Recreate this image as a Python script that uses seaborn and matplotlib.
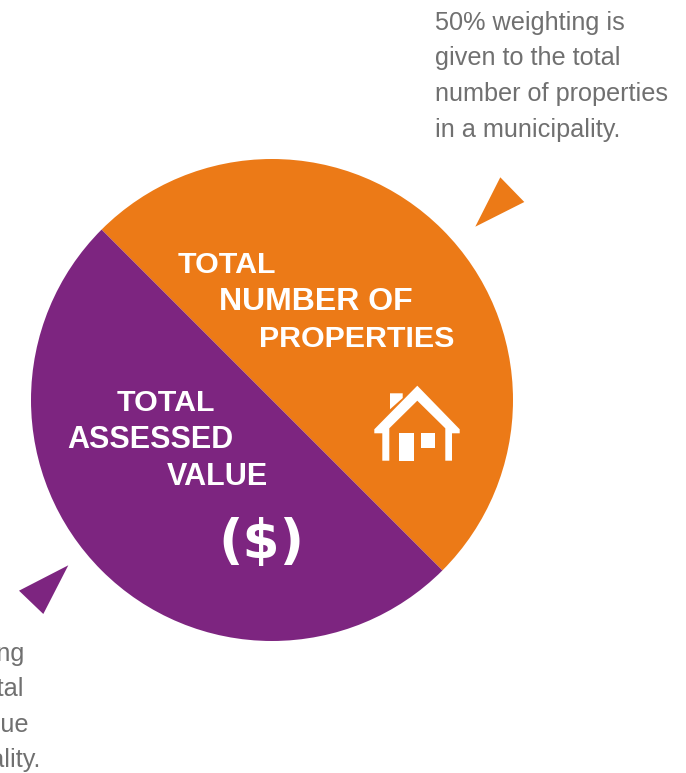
import matplotlib
matplotlib.use("Agg")
import matplotlib.pyplot as plt
from matplotlib.patches import Polygon, Rectangle
import seaborn as sns

W, H = 686, 773
categories = ["Total Number of Properties", "Total Assessed Value"]
weights = [50, 50]
top_note = ["50% weighting is", "given to the total", "number of properties", "in a municipality."]
bottom_note = ["50% weighting", "given to the total", "assessed value", "in a municipality."]
orange_heads = ["TOTAL", "NUMBER OF", "PROPERTIES"]
purple_heads = ["TOTAL", "ASSESSED", "VALUE"]

colors = ["#EC7A17", "#7D2580"]
grey = "#707070"

sns.set_theme(style="white")
plt.rcParams["font.family"] = ["Liberation Sans", "DejaVu Sans"]

fig = plt.figure(figsize=(W / 100, H / 100), dpi=100, facecolor="white")
ax = fig.add_axes([0, 0, 1, 1])


def Y(py):
    return H - py


def pts(seq):
    return [(x, Y(y)) for x, y in seq]


ax.pie(weights, colors=colors, startangle=135, counterclock=False,
       center=(272, Y(400)), radius=241, frame=True,
       wedgeprops={"linewidth": 0, "edgecolor": "none"})
ax.set_xlim(0, W)
ax.set_ylim(0, H)
ax.set_aspect("equal")
ax.axis("off")

# pointer triangles
ax.add_patch(Polygon(pts([(500.3, 177.3), (524.3, 202), (475.3, 226.7)]), fc=colors[0], ec="none"))
ax.add_patch(Polygon(pts([(68.3, 565.3), (19, 590.7), (43.3, 614)]), fc=colors[1], ec="none"))

# notes
for s, y in zip(top_note, [30, 65, 101, 137]):
    ax.text(435, Y(y), s, color=grey, fontsize=18.15, va="baseline", ha="left", clip_on=False)
for s, x, y in zip(bottom_note, [24, 24, 28, 40], [661, 696, 732, 767]):
    ax.text(x, Y(y), s, color=grey, fontsize=18.15, va="baseline", ha="right", clip_on=False)

# headings
for s, x, y, fs in zip(orange_heads, [178, 219, 259], [273, 310, 347], [21.9, 23, 21.9]):
    ax.text(x, Y(y), s, color="white", fontsize=fs, fontweight="bold", va="baseline", ha="left")
for s, x, y, fs in zip(purple_heads, [117, 67, 167], [411, 448, 485], [21.9, 22, 22]):
    ax.text(x, Y(y), s, color="white", fontsize=fs, fontweight="bold", va="baseline", ha="left")

ax.text(261, Y(558), "($)", color="white", fontsize=38.5, fontweight="bold", va="baseline",
        ha="center", family=["DejaVu Sans"])

# house icon
house = [(417.3, 385.7), (459.7, 429.3), (459.7, 433.3), (452, 433.3), (452, 460.7),
         (445.3, 460.7), (445.3, 428.3), (417.3, 400.7), (389.3, 428.3), (389.3, 460.7),
         (382.3, 460.7), (382.3, 433.3), (374.3, 433.3), (374.3, 429.3)]
ax.add_patch(Polygon(pts(house), fc="white", ec="none"))
ax.add_patch(Polygon(pts([(390, 393.3), (402.7, 393.3), (402.7, 398), (390, 409.3)]), fc="white", ec="none"))
ax.add_patch(Rectangle((399.3, Y(460.7)), 14.4, 27.4, fc="white", ec="none"))
ax.add_patch(Rectangle((420.7, Y(448)), 14.6, 14.7, fc="white", ec="none"))

fig.savefig("out.png", dpi=100, facecolor="white")
